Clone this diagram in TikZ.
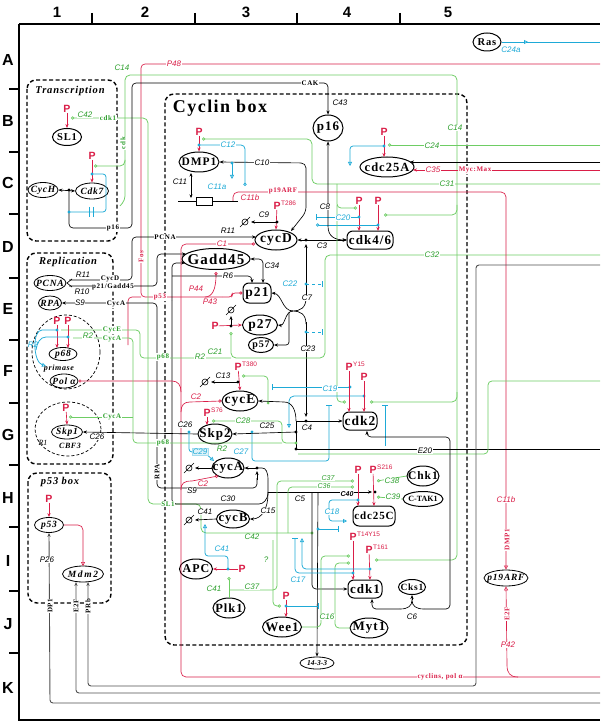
\documentclass[tikz,border=0pt]{standalone}
\usepackage{fontspec}
\setmainfont{Liberation Serif}
\setsansfont{Liberation Sans}
\newfontfamily\molf[LetterSpace=8]{Liberation Serif}
\usetikzlibrary{arrows.meta,shapes.geometric}
\definecolor{kred}{RGB}{218,30,72}
\definecolor{kgreen}{RGB}{45,160,45}
\definecolor{klg}{RGB}{110,205,100}
\definecolor{kcyan}{RGB}{30,170,215}
\definecolor{kgray}{RGB}{80,80,80}
\newcommand{\dgr}[2]{\draw[line width=0.6pt] (#1,#2) circle (3pt) (#1-5,#2+5) -- (#1+5,#2-5);}
\begin{document}
\begin{tikzpicture}[x=1pt,y=-1pt,
  mol/.style={ellipse,draw,fill=white,line width=1pt,inner xsep=-10pt,inner ysep=-3pt,font=\molf\bfseries\fontsize{13}{13}\selectfont},
  molr/.style={rectangle,rounded corners=6pt,draw,fill=white,line width=1pt,inner xsep=-10pt,inner ysep=-3pt,font=\molf\bfseries\fontsize{13}{13}\selectfont},
  mols/.style={ellipse,draw,fill=white,line width=0.8pt,inner xsep=-6pt,inner ysep=-2pt,font=\molf\bfseries\itshape\fontsize{9.5}{9.5}\selectfont},
  cl/.style={font=\sffamily\itshape\fontsize{8}{8}\selectfont,inner sep=0.5pt,fill=white},
  clr/.style={cl,text=kred}, clg/.style={cl,text=kgreen}, clc/.style={cl,text=kcyan},
  sl/.style={font=\molf\bfseries\fontsize{7}{7}\selectfont,inner sep=0.5pt,fill=white},
  slr/.style={sl,text=kred}, slg/.style={sl,text=kgreen},
  pl/.style={font=\sffamily\bfseries\fontsize{10.5}{10.5}\selectfont,text=kred,inner sep=0pt},
  sup/.style={font=\sffamily\fontsize{6.5}{6.5}\selectfont,text=kred,inner sep=0pt,anchor=west},
  bl/.style={draw=black,line width=0.65pt},
  rd/.style={draw=kred,line width=0.65pt},
  gr/.style={draw=klg,line width=0.75pt},
  cy/.style={draw=kcyan,line width=0.75pt},
  gy/.style={draw=kgray,line width=0.9pt},
  ar/.style={-{Stealth[length=4pt,width=3.2pt]}},
  dar/.style={arrows={Stealth[length=4pt,width=3.2pt]-Stealth[length=4pt,width=3.2pt]}},
  oc/.style={-{Circle[open,length=3.2pt,width=3.2pt]}},
  oa/.style={-{Triangle[open,length=4pt,width=4pt]}},
  br/.style={-{Bar[width=6pt]}},
  dbox/.style={draw,line width=1.4pt,dash pattern=on 4pt off 2.5pt,rounded corners=9pt},
  dcirc/.style={draw,line width=0.7pt,dash pattern=on 3pt off 2pt},
  grid/.style={font=\sffamily\bfseries\fontsize{15}{15}\selectfont}
]
\useasboundingbox[fill=white] (0,0) rectangle (600,727);
% frame
\draw[line width=1.8pt] (19,24) -- (600,24);
\draw[line width=1.8pt] (19,24) -- (19,720) -- (600,720);
\foreach \x in {92,195,297,400} \draw[line width=1.3pt] (\x,13) -- (\x,24);
\foreach \y in {89,152,214,278,340,403,465,527,591,653} \draw[line width=1.3pt] (9,\y) -- (19,\y);
\foreach \t/\x in {1/57,2/145,3/246,4/347,5/448} \node[grid] at (\x,12) {\t};
\foreach \t/\y in {A/60,B/121,C/183,D/247,E/309,F/371,G/435,H/498,I/561,J/624,K/688} \node[grid,font=\sffamily\bfseries\fontsize{16}{16}\selectfont] at (8,\y) {\t};
% boxes
\draw[dbox] (27,80) rectangle (117,241);
\draw[dbox] (27,253) rectangle (113,464);
\draw[dbox] (28,473) rectangle (111,603);
\draw[dbox] (165,94) rectangle (467,645);
\draw[dcirc] (66,352) ellipse [x radius=34pt, y radius=37pt];
\draw[dcirc] (68,429) ellipse [x radius=33pt, y radius=27pt];
\node[font=\molf\bfseries\itshape\fontsize{10.5}{10.5}\selectfont] at (70,91) {Transcription};
\node[font=\molf\bfseries\itshape\fontsize{10.5}{10.5}\selectfont] at (68,262) {Replication};
\node[font=\molf\bfseries\itshape\fontsize{10.5}{10.5}\selectfont] at (60,482) {p53 box};
\node[font=\molf\bfseries\fontsize{18}{18}\selectfont] at (220,108) {Cyclin box};

% nodes
\node[mol,minimum width=28pt,minimum height=18pt,font=\molf\bfseries\fontsize{10.5}{10.5}\selectfont] (ras) at (487,42) {Ras};
\node[mol,minimum width=29pt,minimum height=17pt,font=\molf\bfseries\fontsize{10.5}{10.5}\selectfont] (sl1) at (67,137) {SL1};
\node[mols,minimum width=30pt,minimum height=15pt] (cych) at (43,190) {CycH};
\node[mols,minimum width=33pt,minimum height=16pt] (cdk7) at (92,191) {Cdk7};
\node[mols,minimum width=32pt,minimum height=15pt] (pcna) at (50,283) {PCNA};
\node[mols,minimum width=23pt,minimum height=14pt] (rpa) at (50,303) {RPA};
\node[mols,minimum width=28pt,minimum height=13pt] (p68) at (63,354) {p68};
\node[mols,minimum width=28pt,minimum height=14pt] (pola) at (64,381) {Pol α};
\node[mols,minimum width=31pt,minimum height=14pt] (skp1) at (67,432) {Skp1};
\node[mols,minimum width=29pt,minimum height=15pt] (p53) at (49,525) {p53};
\node[mols,minimum width=41pt,minimum height=16pt] (mdm2) at (83,574) {M\,d\,m\,2};
\node[mol,minimum width=30pt,minimum height=26pt] (p16) at (328,128) {p16};
\node[mol,minimum width=40pt,minimum height=20pt,font=\molf\bfseries\fontsize{11.5}{11.5}\selectfont] (dmp1) at (199,162) {DMP1};
\node[mol,minimum width=54pt,minimum height=20pt,font=\molf\bfseries\fontsize{12.5}{12.5}\selectfont] (cdc25a) at (387,167) {cdc25A};
\node[mol,minimum width=42pt,minimum height=20pt,font=\molf\bfseries\fontsize{13.5}{13.5}\selectfont] (cycd) at (276,240) {cycD};
\node[molr,minimum width=46pt,minimum height=18pt] (cdk46) at (370,240) {cdk4/6};
\node[mol,minimum width=68pt,minimum height=21pt,font=\molf\bfseries\fontsize{15}{15}\selectfont] (gadd) at (216,259) {Gadd45};
\node[molr,minimum width=28pt,minimum height=20pt,font=\molf\bfseries\fontsize{13.5}{13.5}\selectfont] (p21) at (257,293) {p21};
\node[mol,minimum width=35pt,minimum height=20pt,font=\molf\bfseries\fontsize{13.5}{13.5}\selectfont] (p27) at (260,325) {p27};
\node[mol,minimum width=25pt,minimum height=15pt,font=\molf\bfseries\fontsize{10}{10}\selectfont] (p57) at (261,345) {p57};
\node[mol,minimum width=36pt,minimum height=20pt,font=\molf\bfseries\fontsize{13.5}{13.5}\selectfont] (cyce) at (240,401) {cycE};
\node[molr,minimum width=34pt,minimum height=18pt,font=\molf\bfseries\fontsize{13.5}{13.5}\selectfont] (cdk2) at (360,421) {cdk2};
\node[mol,minimum width=34pt,minimum height=20pt] (skp2) at (215,434) {Skp2};
\node[mol,minimum width=32pt,minimum height=20pt] (cyca) at (228,468) {cycA};
\node[mol,minimum width=33pt,minimum height=18pt,font=\molf\bfseries\fontsize{12.5}{12.5}\selectfont] (cycb) at (233,519) {cycB};
\node[molr,minimum width=42pt,minimum height=20pt,font=\molf\bfseries\fontsize{11}{11}\selectfont] (cdc25c) at (374,516) {cdc25C};
\node[mol,minimum width=32pt,minimum height=20pt,font=\molf\bfseries\fontsize{11.5}{11.5}\selectfont] (chk1) at (423,476) {Chk1};
\node[mol,minimum width=40pt,minimum height=15pt,font=\bfseries\fontsize{8}{8}\selectfont] (ctak) at (423,499) {C-TAK1};
\node[mol,minimum width=33pt,minimum height=20pt,font=\molf\bfseries\fontsize{12}{12}\selectfont] (apc) at (196,569) {APC};
\node[mol,minimum width=32pt,minimum height=20pt,font=\molf\bfseries\fontsize{12.5}{12.5}\selectfont] (plk1) at (229,608) {Plk1};
\node[mol,minimum width=39pt,minimum height=20pt] (wee1) at (282,627) {Wee1};
\node[mol,minimum width=38pt,minimum height=20pt] (myt1) at (369,628) {Myt1};
\node[molr,minimum width=34pt,minimum height=18pt] (cdk1) at (365,589) {cdk1};
\node[mol,minimum width=27pt,minimum height=15pt,font=\molf\bfseries\fontsize{9.5}{9.5}\selectfont] (cks1) at (412,587) {Cks1};
\node[mols,minimum width=34pt,minimum height=12pt,font=\bfseries\itshape\fontsize{7.5}{7.5}\selectfont] (p1433) at (317,663) {14-3-3};
\node[mols,minimum width=44pt,minimum height=16pt] (p19) at (506,578) {p19ARF};

% ---- long lines ----
\draw[cy,oa] (ras.east) -- (528,42);
\draw[cy] (526,42) -- (600,42);
\draw[rd,rounded corners=4pt] (600,64) -- (141,64) -- (141,297) -- (222,297);
\draw[rd,rounded corners=4pt] (128,345) -- (128,297) -- (141,297);
\draw[rd,oc] (205,297) .. controls (212,297) and (216,290) .. (216,272);
\draw[rd,oc,rounded corners=3pt] (222,297) -- (232,297) -- (232,293) -- (p21.west);
% C14
\draw[gr,{Circle[open,length=3.2pt,width=3.2pt]}-{Circle[open,length=3.2pt,width=3.2pt]},rounded corners=5pt] (94,166) -- (125,166) -- (125,75) -- (457,75) -- (457,560) -- (375,560);
\draw[gr,rounded corners=4pt] (125,160) -- (125,200) -- (120,206);
\draw[gr,oc,rounded corners=5pt] (457,205) -- (457,215) -- (384,215);
\draw[gr,oc,rounded corners=5pt] (457,392) -- (457,402) -- (370,402);
% C42
\draw[gr,oc,rounded corners=5pt] (312,533) -- (201,533) -- (201,504) -- (148,504) -- (148,118) -- (71,118);
\fill[klg] (312,533) circle (1.6pt);
% CAK
\draw[bl,ar,rounded corners=4pt] (69,190) -- (69,228) -- (132,228) -- (132,83) -- (328,83) -- (p16.north);
\draw[bl,dar] (cych.east) -- (cdk7.west);
\fill (69,190) circle (1.6pt);
\node[pl] (pk7) at (92,156) {P}; \draw[rd,ar] (pk7) -- (cdk7.north);
\fill[kcyan] (92,174) circle (1.6pt);
\draw[cy,rounded corners=3pt] (92,174) -- (106,174) -- (106,212) -- (69,212);
\fill[kcyan] (69,212) circle (1.6pt);
\draw[cy,line width=1pt] (89,207) -- (89,217) (93,207) -- (93,217);
\node[pl] (ps1) at (67,109) {P}; \draw[rd,ar] (ps1) -- (sl1.north);
% PCNA
\draw[bl,ar,rounded corners=4pt] (69,280) -- (132,280) -- (132,237) -- (256,237);
\draw[bl,ar,rounded corners=4pt] (69,286) -- (157,286) -- (157,254) -- (186,254);
\draw[bl] (72,279) -- (67,283) -- (72,287);
\draw[bl,ar,rounded corners=4pt] (172,300) -- (172,263) -- (185,263);
\draw[bl,rounded corners=4pt] (172,300) -- (172,504) -- (255,504) .. controls (263,504) and (268,500) .. (268,492);
\draw[bl,ar,rounded corners=4pt] (172,276) -- (252,276) -- (252,283);
\draw[bl,dar,rounded corners=4pt] (gadd.east) -- (263,259) -- (263,283);
% RPA / S9
\draw[bl,ar,rounded corners=4pt] (257,478) -- (257,488) -- (157,488) -- (157,303) -- (rpa.east);
\draw[bl,ar] (257,480) -- (257,471);
% cycD
\node[pl] (pd) at (277,206) {P}; \node[sup] at (281,203) {T286}; \draw[rd,ar] (pd) -- (cycd.north);
\fill (277,222) circle (1.6pt); \draw[bl,ar] (277,222) -- (251,222); \dgr{245}{222}
\draw[rd,oc,rounded corners=5pt] (600,677) -- (181,677) -- (181,244) -- (255,244);
\draw[rd,oc] (181,392) .. controls (181,385) and (178,381) .. (172,381) -- (pola.east);
\draw[rd,oc] (181,412) .. controls (181,405) and (184,402) .. (190,402) -- (cyce.west);
\draw[rd,oc] (181,490) .. controls (181,483) and (184,481) .. (192,481) -- (218,476);
\draw[bl,dar] (cycd.east) -- (cdk46.west);
\fill (306,240) circle (1.6pt);
\draw[bl,ar] (306,300) -- (306,244);
\draw[bl,ar] (306,322) -- (306,417);
\draw[bl] (306,298) .. controls (306,308) and (300,311) .. (293,311) .. controls (300,311) and (306,314) .. (306,324);
\draw[bl,ar] (293,311) .. controls (282,311) and (282,294) .. (p21.east);
\draw[bl,ar] (293,311) .. controls (285,311) and (285,326) .. (p27.east);
\draw[bl,ar,rounded corners=3pt] (289,312) -- (289,345) -- (p57.east);
\fill[kcyan] (306,284) circle (1.6pt); \draw[cy,dashed,br] (306,284) -- (323,284);
\fill[kcyan] (306,332) circle (1.6pt); \draw[cy,dashed,br] (306,332) -- (323,332);
% p27
\node[pl] (p27p) at (215,326) {P}; \draw[rd,ar] (p27p) -- (p27.west);
\fill (231,326) circle (1.6pt); \draw[bl,ar] (231,326) -- (231,316); \dgr{231}{310}
\draw[gr,oc,rounded corners=5pt] (600,255) -- (325,255) -- (325,358) -- (231,358) -- (231,332);
\draw[gr,rounded corners=4pt] (61,330) -- (140,330) -- (140,358) -- (231,358);
% cdk4/6
\node[pl] (pk1) at (359,201) {P}; \node[pl] (pk2) at (378,201) {P};
\draw[rd,ar] (pk1) -- (359,231); \draw[rd,ar] (pk2) -- (378,231);
\fill[kcyan] (359,217) circle (1.6pt); \fill[kcyan] (378,225) circle (1.6pt);
\draw[cy,br] (359,217) -- (316,217); \draw[cy,oc] (378,225) -- (316,225);
\draw[gr,oc,rounded corners=5pt] (600,184) -- (312,184) -- (312,139) -- (202,139);
\draw[gr,oc,rounded corners=4pt] (337,184) -- (337,208) -- (357,208);
\draw[gr,oc,rounded corners=4pt] (337,205) -- (337,402) -- (346,402);
\draw[bl,dar] (p16.south) -- (328,226) .. controls (328,236) and (334,240) .. (347,240);
\draw[bl,dar,rounded corners=5pt] (dmp1.east) -- (306,163) -- (306,212) -- (291,231);
\fill[kcyan] (232,163) circle (1.6pt); \draw[cy,oa] (232,163) -- (232,179);
% DMP1
\node[pl] (pdm) at (199,132) {P}; \draw[rd,ar] (pdm) -- (dmp1.north);
\fill[kcyan] (199,145) circle (1.6pt);
\draw[cy,oc,rounded corners=4pt] (199,145) -- (245,145) -- (245,186);
\draw[bl,arrows={Stealth[length=3.5pt,width=3pt]-Stealth[length=3.5pt,width=3pt]}] (191,173) -- (191,198);
\draw[bl] (178,201) -- (238,201); \draw[bl,fill=white] (196,197) rectangle (212,205);
\draw[rd,oa,rounded corners=5pt] (233,201) -- (233,192) -- (506,192) -- (p19.north);
\draw[rd,oa] (518,677) .. controls (510,677) and (507,673) .. (507,665) -- (p19.south);
% cdc25A
\node[pl] (pca) at (384,132) {P}; \draw[rd,ar] (pca) -- (384,157);
\fill[kcyan] (384,146) circle (1.6pt);
\draw[cy,oa,rounded corners=3pt] (384,146) -- (350,146) -- (350,166);
\draw[gr,oc] (600,145) -- (388,145);
\draw[bl,ar] (600,162) -- (410,162);
\draw[rd,ar] (600,170) -- (413,170);
% cycE
\node[pl] (pe) at (238,367) {P}; \node[sup] at (242,364) {T380}; \draw[rd,ar] (pe) -- (cyce.north);
\fill (238,382) circle (1.6pt); \draw[bl,ar] (238,382) -- (211,382); \dgr{205}{382}
\draw[gr,oc,rounded corners=4pt] (268,403) -- (268,376) -- (242,376); \fill[klg] (268,403) circle (1.5pt);
\fill[kcyan] (350,387) circle (1.6pt); \draw[cy,br] (350,387) -- (272,387);
\fill[kcyan] (364,396) circle (1.6pt); \draw[cy,oa,rounded corners=5pt] (364,396) -- (289,396) -- (289,428);
\fill[kcyan] (252,432) circle (1.6pt); \draw[cy,br,rounded corners=3pt] (252,432) -- (252,461) -- (329,461) -- (329,405);
\draw[cy,br] (385,446) -- (385,405);
% cdk2
\node[pl] (pc2a) at (349,367) {P}; \node[sup] at (353,364) {Y15}; \node[pl] (pc2b) at (364,377) {P};
\draw[rd,ar] (pc2a) -- (349,412); \draw[rd,ar] (pc2b) -- (364,412);
\draw[bl,ar] (296,421) .. controls (296,410) and (292,402) .. (284,402) -- (cyce.east);
\draw[bl,ar] (296,421) -- (cdk2.west);
\fill (306,421) circle (1.6pt);
\draw[bl] (296,421) -- (296,449);
\fill (296,432) circle (1.6pt); \fill (296,449) circle (1.6pt);
\draw[bl,ar] (296,432) -- (skp2.east);
\draw[bl] (296,449) -- (600,449);
\draw[gr,rounded corners=4pt] (600,381) -- (488,381) -- (488,454) -- (298,454);
\draw[gr,oc,rounded corners=4pt] (296,443) -- (282,443) -- (282,421) -- (212,421);
\fill[klg] (296,443) circle (1.6pt);
\node[pl] (ps2) at (207,413) {P}; \node[sup] at (211,410) {S76}; \draw[rd,ar] (ps2) -- (207,425);
% Skp1
\node[pl] (psk) at (66,408) {P}; \draw[rd,ar] (psk) -- (skp1.north);
\draw[gr,oc] (133,417) -- (69,417);
\draw[gr,rounded corners=4pt] (73,338) -- (133,338) -- (133,443) -- (282,443);
\draw[bl,ar] (skp2.west) -- (skp1.east);
\fill[kcyan] (189,432) circle (1.6pt);
\draw[cy,oa,rounded corners=3pt] (189,432) -- (189,452) -- (204,452) -- (214,461);
% p68
\node[pl] (p68a) at (57,321) {P}; \node[pl] (p68b) at (68,321) {P};
\draw[rd,ar] (p68a) -- (57,348); \draw[rd,ar] (p68b) -- (68,348);
\fill[kcyan] (57,330) circle (1.6pt); \fill[kcyan] (68,337) circle (1.6pt);
\draw[cy,oa] (57,330) -- (42,330) .. controls (32,330) and (33,362) .. (46,366);
\draw[cy] (68,337) -- (46,337) .. controls (40,337) and (37,343) .. (36,350);
% p53 box
\node[pl] (pp53) at (49,499) {P}; \draw[rd,ar] (pp53) -- (p53.north);
\draw[rd,oa,rounded corners=5pt] (p53.east) -- (83,525) -- (83,566);
\draw[gy,ar,rounded corners=3pt] (600,703) -- (50,703) -- (p53.south);
\draw[gy,ar,rounded corners=3pt] (600,693) -- (76,693) -- (76,582);
\draw[gy,ar,rounded corners=3pt] (600,265) -- (476,265) -- (476,686) -- (88,686) -- (88,582);
% cycA / cycB
\draw[bl,ar] (cyca.west) -- (195,468); \dgr{189}{468}
\fill (257,468) circle (1.6pt); \draw[bl,ar] (257,468) -- (cyca.east);
\draw[bl] (257,468) -- (262,468) .. controls (266,468) and (268,472) .. (268,480) -- (268,494);
\draw[bl,ar] (268,492) -- (372,492);
\fill (375,492) circle (1.6pt);
\draw[bl,ar] (268,494) .. controls (268,508) and (262,519) .. (cycb.east);
\draw[bl,ar,rounded corners=4pt] (312,492) -- (312,589) -- (cdk1.west);
\draw[bl,ar] (318,492) -- (p1433.north);
\draw[bl,ar] (cycb.west) -- (195,520); \dgr{189}{520}
\draw[cy,oa,rounded corners=3pt] (228,569) -- (228,556) -- (205,556) -- (205,524);
% APC / Plk1
\node[pl] (papc) at (242,569) {P}; \draw[rd,ar] (papc) -- (apc.east);
\fill[kcyan] (228,569) circle (1.6pt);
\draw[gr,oc] (plk1.north) -- (229,577);
\draw[gr,oc,rounded corners=4pt] (229,590) -- (277,590) -- (277,481) -- (354,481);
\draw[gr,oc,rounded corners=4pt] (288,533) -- (288,487) -- (354,487);
\draw[gr,oc,rounded corners=4pt] (273,540) -- (273,606) -- (281,606);
% Wee1 / Myt1 / cdk1
\node[pl] (pw) at (286,596) {P}; \draw[rd,ar] (pw) -- (286,617);
\fill[kcyan] (286,606) circle (1.6pt); \draw[cy,br] (286,606) -- (319,606);
\draw[gr,oc,rounded corners=4pt] (wee1.east) -- (321,627) -- (321,556) -- (350,556);
\draw[gr,oc,rounded corners=4pt] (myt1.west) -- (335,628) -- (335,563) -- (350,563);
\node[pl] (pt14) at (353,537) {P}; \node[sup] at (357,534) {T14Y15};
\node[pl] (pt16) at (369,550) {P}; \node[sup] at (373,547) {T161};
\draw[rd,ar] (pt14) -- (353,580); \draw[rd,ar] (pt16) -- (370,580);
\fill[kcyan] (353,573) circle (1.6pt); \fill[kcyan] (370,569) circle (1.6pt);
\draw[cy,oa,rounded corners=4pt] (370,569) -- (302,569) -- (302,538);
\draw[cy,br,rounded corners=4pt] (353,573) -- (295,573) -- (295,538);
% cdc25C
\node[pl] (pc1) at (358,470) {P}; \node[pl] (pc2) at (373,470) {P}; \node[sup] at (377,467) {S216};
\draw[rd,ar] (pc1) -- (358,506); \draw[rd,ar] (pc2) -- (374,506);
\draw[gr,oc] (chk1.west) -- (377,481);
\draw[gr,oc] (ctak.west) -- (377,497);
\fill[kcyan] (358,500) circle (1.6pt);
\draw[cy,oa,rounded corners=3pt] (358,500) -- (329,500) -- (329,521) -- (347,521);
\fill[kcyan] (318,529) circle (1.6pt); \draw[cy,br] (318,529) -- (339,529);
% Cks1
\draw[bl,ar] (412,600) -- (cks1.south);
\draw[bl,ar,rounded corners=4pt] (400,609) -- (372,609) -- (372,599);
\draw[bl] (400,609) .. controls (408,609) and (412,606) .. (412,600) .. controls (412,606) and (416,609) .. (424,609);
\draw[bl,ar,rounded corners=4pt] (424,609) -- (450,609) -- (450,437) -- (367,437) -- (367,431);

% ---- labels ----
\node[clc,fill=none] at (511,50) {C24a};
\node[clr] at (174,64) {P48};
\node[slr,rotate=90] at (141,257) {Fos};
\node[slr] at (160,297) {p53};
\node[clr] at (196,289) {P44};
\node[clr] at (210,302) {P43};
\node[clg] at (122,68) {C14};
\node[clg] at (455,128) {C14};
\node[slg,rotate=90] at (123,143) {cdk};
\node[clg] at (85,115) {C42};
\node[slg] at (108,118) {cdk1};
\node[slg] at (168,504) {SL1};
\node[clg] at (252,537) {C42};
\node[sl] at (113,228) {p16};
\node[sl] at (310,83) {CAK};
\node[cl] at (340,103) {C43};
\node[cl] at (83,275) {R11};
\node[sl] at (110,279) {CycD};
\node[sl] at (113,287) {p21/Gadd45};
\node[cl] at (82,292) {R10};
\node[sl] at (165,237) {PCNA};
\node[cl] at (228,231) {R11};
\node[clr] at (222,244) {C1};
\node[cl] at (228,276) {R6};
\node[cl] at (272,266) {C34};
\node[cl] at (80,303) {S9};
\node[sl] at (116,304) {CycA};
\node[sl,rotate=90] at (157,472) {RPA};
\node[cl] at (192,491) {S9};
\node[cl] at (264,215) {C9};
\node[cl] at (322,246) {C3};
\node[cl] at (307,298) {C7};
\node[cl] at (308,349) {C23};
\node[clc] at (290,284) {C22};
\node[clg] at (215,352) {C21};
\node[clg] at (432,255) {C32};
\node[slg] at (163,357) {p68};
\node[clg] at (200,357) {R2};
\node[clc] at (343,218) {C20};
\node[clg] at (447,184) {C31};
\node[cl] at (325,207) {C8};
\node[cl] at (262,163) {C10};
\node[clc] at (217,187) {C11a};
\node[clc] at (228,145) {C12};
\node[cl] at (180,182) {C11};
\node[clr] at (250,198) {C11b};
\node[slr] at (283,191) {p19ARF};
\node[clr] at (506,500) {C11b};
\node[slr,rotate=90] at (507,540) {DMP1};
\node[slr,rotate=90] at (507,614) {E2F};
\node[clr] at (508,645) {P42};
\node[slr] at (440,677) {cyclins, pol α};
\node[clg] at (432,146) {C24};
\node[clr] at (433,170) {C35};
\node[slr] at (475,170) {Myc:Max};
\node[cl] at (223,376) {C13};
\node[clr] at (196,397) {C2};
\node[clr] at (203,484) {C2};
\node[clc] at (330,389) {C19};
\node[clc] at (241,452) {C27};
\node[cl] at (307,428) {C4};
\node[cl] at (267,426) {C25};
\node[cl] at (425,451) {E20};
\node[clg] at (243,421) {C28};
\node[clg] at (222,449) {R2};
\node[slg] at (163,443) {p68};
\node[slg] at (112,417) {CycA};
\node[cl] at (185,425) {C26};
\node[cl] at (97,437) {C26};
\node[font=\itshape\fontsize{8}{8}\selectfont] at (43,443) {R1};
\node[font=\molf\bfseries\itshape\fontsize{8}{8}\selectfont] at (70,446) {CBF3};
\node[cl,text=kcyan,fill=kcyan!15,draw=kcyan!40] at (200,452) {C29};
\node[slg] at (112,330) {CycE};
\node[clg] at (88,336) {R2};
\node[slg] at (112,339) {CycA};
\node[clc,fill=none] at (33,345) {R2};
\node[font=\molf\bfseries\itshape\fontsize{8}{8}\selectfont] at (59,369) {primase};
\node[cl] at (47,560) {P26};
\node[sl,rotate=90] at (50,606) {DP1};
\node[sl,rotate=90] at (76,606) {E2F};
\node[sl,rotate=90] at (88,606) {PRb};
\node[cl] at (228,499) {C30};
\node[cl] at (268,511) {C15};
\node[cl,font=\sffamily\itshape\bfseries\fontsize{7}{7}\selectfont] at (347,494) {C40};
\node[cl] at (300,499) {C5};
\node[cl] at (205,512) {C41};
\node[clc] at (222,549) {C41};
\node[clg] at (214,589) {C41};
\node[clg] at (252,587) {C37};
\node[clg,font=\sffamily\itshape\fontsize{7}{7}\selectfont] at (328,478) {C37};
\node[clg,font=\sffamily\itshape\fontsize{7}{7}\selectfont] at (324,486) {C36};
\node[clg] at (266,560) {?};
\node[clg] at (327,617) {C16};
\node[clc] at (298,580) {C17};
\node[clg] at (392,481) {C38};
\node[clg] at (393,497) {C39};
\node[clc] at (332,512) {C18};
\node[cl] at (412,617) {C6};
\end{tikzpicture}
\end{document}
